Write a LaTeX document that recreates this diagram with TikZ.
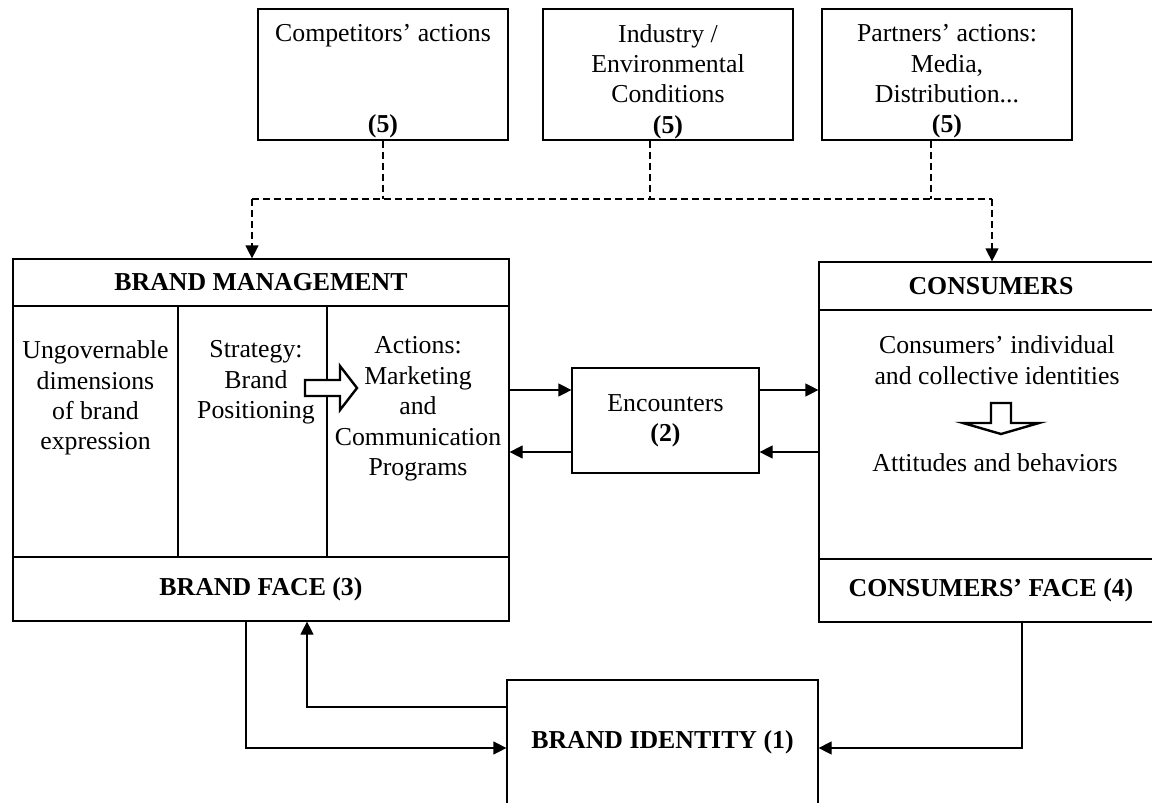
\documentclass[tikz,border=0pt]{standalone}
\usepackage{fontspec}
\setmainfont{Liberation Serif}
\usetikzlibrary{arrows.meta}
\tikzset{
  box/.style={draw, line width=0.6pt, rectangle, inner sep=0pt, align=center},
  txt/.style={align=center, inner sep=0pt},
  arr/.style={-{Triangle[length=6.5pt,width=6.5pt]}},
  conn/.style={line width=0.6pt, arr},
  dashline/.style={line width=0.6pt, dash pattern=on 3.5pt off 2pt},
  hollow/.style={line width=1.2pt, line join=miter, fill=white}
}

\begin{document}
\begin{tikzpicture}[x=0.5pt, y=-0.5pt, font=\fontsize{12.9}{15.2}\selectfont]
      \useasboundingbox (0,0) rectangle (1152,803);

      % outside influences
      \node[box, minimum width=125pt, minimum height=65.5pt] (comp) at (383,74.5) {};
      \node[box, minimum width=125pt, minimum height=65.5pt] (ind) at (668,74.5) {};
      \node[box, minimum width=125pt, minimum height=65.5pt] (part) at (947,74.5) {};
      \node[txt] (comptxt) at (383,81.5) {Competitors' actions\\[30.4pt]\textbf{(5)}};
      \node[txt] (indtxt) at (668,81.5) {Industry /\\Environmental\\Conditions\\\textbf{(5)}};
      \node[txt] (parttxt) at (947,81.5) {Partners' actions:\\Media,\\Distribution...\\\textbf{(5)}};

      % brand management block
      \node[box, minimum width=248pt, minimum height=23.5pt] (bmhead) at (261,282.5) {\bfseries BRAND MANAGEMENT};
      \node[box, minimum width=82.5pt, minimum height=125.5pt] (ungov) at (95.5,431.5) {};
      \node[box, minimum width=74.5pt, minimum height=125.5pt] (strat) at (252.5,431.5) {};
      \node[box, minimum width=91pt, minimum height=125.5pt] (acts) at (418,431.5) {};
      \node[box, minimum width=248pt, minimum height=32pt] (bmface) at (261,589) {\bfseries BRAND FACE (3)};
      \node[txt] (ungovtxt) at (95.5,398) {Ungovernable\\dimensions\\of brand\\expression};
      \node[txt] (strattxt) at (256,382.5) {Strategy:\\Brand\\Positioning};
      \node[txt] (actstxt) at (418,409) {Actions:\\Marketing\\and\\Communication\\Programs};
      \draw[hollow] (305,380) -- (340,380) -- (340,366) -- (357,388) -- (340,410) -- (340,396) -- (305,396) -- cycle;

      \node[box, minimum width=93.5pt, minimum height=52.5pt] (enc) at (665.5,420.5) {Encounters\\\textbf{(2)}};

      % consumers block
      \node[box, minimum width=172pt, minimum height=24pt] (conshead) at (991,286) {\bfseries CONSUMERS};
      \node[box, minimum width=172pt, minimum height=124.5pt] (consbody) at (991,434.5) {};
      \node[box, minimum width=172pt, minimum height=31.5pt] (consface) at (991,590.5) {\bfseries CONSUMERS' FACE (4)};
      \node[txt] (idtxt) at (997,360) {Consumers' individual\\and collective identities};
      \node[txt] (atttxt) at (995,463) {Attitudes and behaviors};
      \draw[hollow] (991,403) -- (1011,403) -- (1011,423) -- (1039,423) -- (1001,434) -- (963,423) -- (991,423) -- cycle;

      \node[box, minimum width=155.5pt, minimum height=62.5pt] (ident) at (662.5,742.5) {\bfseries BRAND IDENTITY (1)};

      % dashed influence lines
      \coordinate (busL) at (252,199);
      \coordinate (busR) at (992,199);
      \coordinate (inddrop) at ([xshift=-9pt]ind.south);
      \coordinate (partdrop) at ([xshift=-8pt]part.south);
      \draw[dashline] (comp.south) -- (comp.south |- busL);
      \draw[dashline] (inddrop) -- (inddrop |- busL);
      \draw[dashline] (partdrop) -- (partdrop |- busL);
      \draw[dashline] (busL) -- (busR);
      \draw[dashline, arr] (busL) -- (busL |- bmhead.north);
      \draw[dashline, arr] (busR) -- (busR |- conshead.north);

      % encounters
      \coordinate (encin) at ([yshift=15.25pt]enc.west);
      \coordinate (encback) at ([yshift=-15.75pt]enc.west);
      \coordinate (encout) at ([yshift=15.25pt]enc.east);
      \coordinate (encret) at ([yshift=-15.75pt]enc.east);
      \draw[conn] (acts.east |- encin) -- (encin);
      \draw[conn] (encout) -- (consbody.west |- encout);
      \draw[conn] (consbody.west |- encret) -- (encret);
      \draw[conn] (encback) -- (acts.east |- encback);

      % identity loops
      \coordinate (loopL) at (246,748);
      \coordinate (loopUp) at (307,707);
      \coordinate (loopR) at (1022,748);
      \draw[conn] (loopL |- bmface.south) -- (loopL) -- (ident.west |- loopL);
      \draw[conn] (ident.west |- loopUp) -- (loopUp) -- (loopUp |- bmface.south);
      \draw[conn] (loopR |- consface.south) -- (loopR) -- (ident.east |- loopR);
    \end{tikzpicture}
\end{document}
